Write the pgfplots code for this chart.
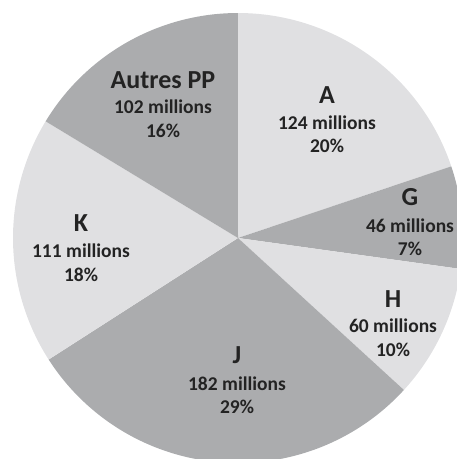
\documentclass[border=0pt]{standalone}
\usepackage{fontspec}
\setmainfont{Carlito}
\usepackage{pgfplots}
\pgfplotsset{compat=1.18}
\definecolor{lightg}{RGB}{224,224,226}
\definecolor{darkg}{RGB}{171,172,174}
\definecolor{txt}{RGB}{35,35,35}
\begin{document}
\begin{tikzpicture}
% values (millions): A, G, H, J, K, Autres PP
\def\vA{124}\def\vG{46}\def\vH{60}\def\vJ{182}\def\vK{111}\def\vO{102}
\pgfmathsetmacro{\tot}{\vA+\vG+\vH+\vJ+\vK+\vO}
\pgfmathsetmacro{\sA}{90}
\pgfmathsetmacro{\eA}{\sA-360*(\vA/\tot)}
\pgfmathsetmacro{\eG}{\eA-360*(\vG/\tot)}
\pgfmathsetmacro{\eH}{\eG-360*(\vH/\tot)}
\pgfmathsetmacro{\eJ}{\eH-360*(\vJ/\tot)}
\pgfmathsetmacro{\eK}{\eJ-360*(\vK/\tot)}
\pgfmathsetmacro{\eO}{\eK-360*(\vO/\tot)}
\begin{axis}[width=457pt,height=459pt,scale only axis,
  xmin=0,xmax=457,ymin=0,ymax=459,y dir=reverse,
  hide axis, clip=true]
\def\cx{238}\def\cy{238}\def\R{225}
\addplot[fill=lightg,draw=none,domain=\eA:\sA,samples=80,variable=\t]
  ({\cx+\R*cos(\t)},{\cy-\R*sin(\t)}) -- (\cx,\cy) -- cycle;
\addplot[fill=darkg,draw=none,domain=\eG:\eA,samples=40,variable=\t]
  ({\cx+\R*cos(\t)},{\cy-\R*sin(\t)}) -- (\cx,\cy) -- cycle;
\addplot[fill=lightg,draw=none,domain=\eH:\eG,samples=40,variable=\t]
  ({\cx+\R*cos(\t)},{\cy-\R*sin(\t)}) -- (\cx,\cy) -- cycle;
\addplot[fill=darkg,draw=none,domain=\eJ:\eH,samples=100,variable=\t]
  ({\cx+\R*cos(\t)},{\cy-\R*sin(\t)}) -- (\cx,\cy) -- cycle;
\addplot[fill=lightg,draw=none,domain=\eK:\eJ,samples=70,variable=\t]
  ({\cx+\R*cos(\t)},{\cy-\R*sin(\t)}) -- (\cx,\cy) -- cycle;
\addplot[fill=darkg,draw=none,domain=\eO:\eK,samples=70,variable=\t]
  ({\cx+\R*cos(\t)},{\cy-\R*sin(\t)}) -- (\cx,\cy) -- cycle;
\tikzset{tl/.style={anchor=base,text=txt,font=\bfseries\fontsize{26}{30}\selectfont,inner sep=0pt},
         nl/.style={anchor=base,text=txt,font=\bfseries\fontsize{19.5}{22}\selectfont,inner sep=0pt}}
% Autres PP
\node[tl] at (163,88) {Autres PP};
\node[nl] at (163,113) {102 millions};
\node[nl] at (163,137) {16\%};
% A
\node[tl] at (327,103) {A};
\node[nl] at (327,129) {124 millions};
\node[nl] at (327,152) {20\%};
% G
\node[tl] at (410,205) {G};
\node[nl] at (410,232) {46 millions};
\node[nl] at (410,255) {7\%};
% H
\node[tl] at (393,307) {H};
\node[nl] at (393,332) {60 millions};
\node[nl] at (393,356) {10\%};
% J
\node[tl] at (237,363) {J};
\node[nl] at (237,390) {182 millions};
\node[nl] at (237,413) {29\%};
% K
\node[tl] at (81,231) {K};
\node[nl] at (81,257) {111 millions};
\node[nl] at (81,281) {18\%};
\end{axis}
\pgfresetboundingbox
\path[use as bounding box] (current axis.south west) rectangle (current axis.north east);
\end{tikzpicture}
\end{document}
